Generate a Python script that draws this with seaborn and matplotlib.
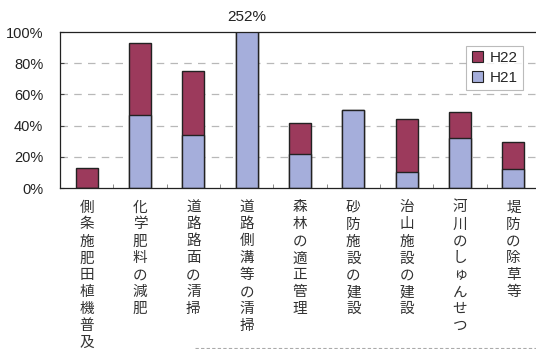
import matplotlib
matplotlib.use("Agg")
import matplotlib.pyplot as plt
from matplotlib.lines import Line2D
import numpy as np
import pandas as pd
import seaborn as sns

# Categories (written top-to-bottom) and shares per fiscal year (%)
categories = ["側条施肥田植機普及", "化学肥料の減肥", "道路路面の清掃", "道路側溝等の清掃",
              "森林の適正管理", "砂防施設の建設", "治山施設の建設", "河川のしゅんせつ", "堤防の除草等"]
h21 = [0, 47, 34, 252, 21.5, 50, 10.5, 32, 12.5]
h22 = [13, 46, 41, 0, 20, 0, 34, 16.5, 17]
y_ticks = [0, 20, 40, 60, 80, 100]

red = "#9c3a5c"
blue = "#a5aedb"

sns.set_theme(style="white")
plt.rcParams["font.family"] = ["Liberation Sans", "Noto Sans CJK JP", "DejaVu Sans"]

df = pd.DataFrame({"cat": categories, "H21": h21, "H22": h22})
df["total"] = df["H21"] + df["H22"]

fig = plt.figure(figsize=(5.36, 3.49), dpi=100)
ax = fig.add_axes([60 / 536, 161 / 349, 480 / 536, 156 / 349])

# stacked bars: total in red underneath, H21 part in blue on top of it
sns.barplot(data=df, x="cat", y="total", color=red, saturation=1, width=0.41,
            edgecolor="#222222", linewidth=1.0, ax=ax)
sns.barplot(data=df, x="cat", y="H21", color=blue, saturation=1, width=0.41,
            edgecolor="#222222", linewidth=1.0, ax=ax)

ax.set_ylim(0, 100)
ax.set_xlim(-0.5, len(categories) - 0.5)
ax.set_xlabel("")
ax.set_ylabel("")
ax.set_yticks(y_ticks)
ax.set_yticklabels([f"{v}%" for v in y_ticks], fontsize=10.5, color="#222222")
for v in y_ticks[1:-1]:
    ax.axhline(v, color="#b8b8b8", linestyle=(0, (6, 5)), linewidth=0.9, zorder=0)

ax.set_xticks(range(len(categories)))
ax.set_xticklabels(["\n".join(c) for c in categories], fontsize=10.5, color="#333333",
                   family=["Noto Sans CJK JP"], linespacing=1.27, va="top")
ax.tick_params(axis="x", length=0, pad=9)
ax.tick_params(axis="y", direction="in", length=3, width=0.8, color="#444444", pad=12, left=True)
ax.set_xticks(np.arange(-0.5, len(categories), 1), minor=True)
ax.tick_params(axis="x", which="minor", direction="in", length=3, width=0.6,
               color="#777777", bottom=True)

for side in ["left", "bottom", "top"]:
    ax.spines[side].set_visible(True)
    ax.spines[side].set_color("#222222")
    ax.spines[side].set_linewidth(0.9)
ax.spines["right"].set_visible(False)

# off-scale bar annotated with its real value
ax.text(3, 105, f"{h21[3]}%", ha="center", va="bottom", fontsize=11,
        color="#222222", clip_on=False)

handles = [plt.Rectangle((0, 0), 1, 1, facecolor=red, edgecolor="#222222", linewidth=0.8),
           plt.Rectangle((0, 0), 1, 1, facecolor=blue, edgecolor="#222222", linewidth=0.8)]
leg = ax.legend(handles, ["H22", "H21"], loc="upper right", bbox_to_anchor=(0.98, 0.96),
                fontsize=11, frameon=True, fancybox=False, handlelength=0.75, handleheight=0.75,
                handletextpad=0.4, borderpad=0.35, labelspacing=0.35)
leg.get_frame().set_edgecolor("#aaaaaa")
leg.get_frame().set_linewidth(0.8)

fig.add_artist(Line2D([195 / 536, 1], [1.5 / 349, 1.5 / 349], color="#aaaaaa",
                      linestyle=(0, (3, 2)), linewidth=0.8))

fig.savefig("out.png", dpi=100)
